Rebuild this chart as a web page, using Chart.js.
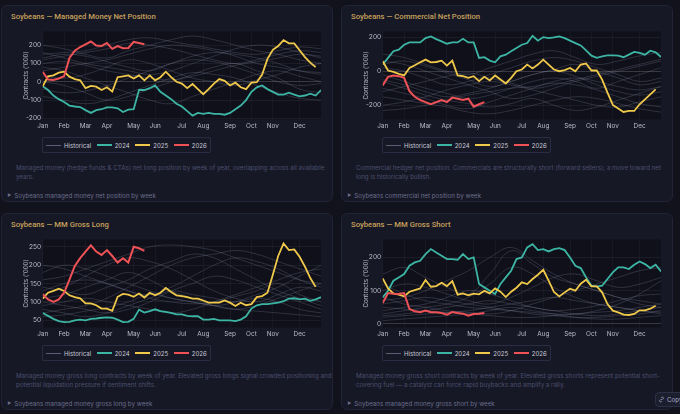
<!DOCTYPE html>
<html>
<head>
<meta charset="utf-8">
<script src="https://cdn.jsdelivr.net/npm/chart.js@4.4.1/dist/chart.umd.min.js"></script>
<style>
  body { margin: 0; width: 680px; height: 414px; overflow: hidden; position: relative; background: #11121b; font-family: Inter, "Noto Sans", sans-serif; }
  .card { position: absolute; width: 332px; height: 197px; box-sizing: border-box; background: #171826; border: 1px solid #212336; border-radius: 6px; }
  .title { position: absolute; left: 9px; top: 6px; font-family: Roboto, Inter, sans-serif; font-size: 7.7px; font-weight: 500; color: #c6a05c; line-height: 9px; white-space: nowrap; }
  .card canvas { position: absolute; left: 10px; top: 20px; }
  .legend { position: absolute; left: 40px; top: 131px; height: 16px; box-sizing: border-box; border: 1px solid #2a2c41; border-radius: 2px; display: flex; align-items: center; padding: 0 3px; font-size: 6.1px; color: #c6c9d6; white-space: nowrap; }
  .legend .sw { display: inline-block; width: 15px; height: 0; margin-right: 3px; }
  .legend .it { display: flex; align-items: center; margin-right: 5.5px; }
  .legend .it:last-child { margin-right: 0; }
  .desc { position: absolute; left: 14px; top: 156.5px; font-size: 6.2px; line-height: 9.3px; color: #4b4f6d; white-space: nowrap; }
  .sum { position: absolute; left: 5.5px; top: 185px; font-size: 6.2px; line-height: 9px; color: #6a6e8b; white-space: nowrap; }
  .sum .tri { font-size: 4.2px; margin-right: 3px; vertical-align: 1px; }
  .copy { position: absolute; left: 655px; top: 392px; width: 40px; height: 15px; box-sizing: border-box; background: #1c1d2d; border: 1px solid #2d2f46; border-radius: 4px; font-size: 6.2px; color: #a6abca; display: flex; align-items: center; padding-left: 2px; }
</style>
</head>
<body>

<div class="card" style="left:1px;top:5px">
  <div class="title">Soybeans — Managed Money Net Position</div>
  <canvas id="c1" width="312" height="106"></canvas>
  <div class="legend" id="l1"></div>
  <div class="desc">Managed money (hedge funds &amp; CTAs) net long position by week of year, overlapping across all available<br>years.</div>
  <div class="sum"><span class="tri">▶</span>Soybeans managed money net position by week</div>
</div>

<div class="card" style="left:341px;top:5px">
  <div class="title">Soybeans — Commercial Net Position</div>
  <canvas id="c2" width="312" height="106"></canvas>
  <div class="legend" id="l2"></div>
  <div class="desc">Commercial hedger net position. Commercials are structurally short (forward sellers); a move toward net<br>long is historically bullish.</div>
  <div class="sum"><span class="tri">▶</span>Soybeans commercial net position by week</div>
</div>

<div class="card" style="left:1px;top:213px">
  <div class="title">Soybeans — MM Gross Long</div>
  <canvas id="c3" width="312" height="106"></canvas>
  <div class="legend" id="l3"></div>
  <div class="desc">Managed money gross long contracts by week of year. Elevated gross longs signal crowded positioning and<br>potential liquidation pressure if sentiment shifts.</div>
  <div class="sum"><span class="tri">▶</span>Soybeans managed money gross long by week</div>
</div>

<div class="card" style="left:341px;top:213px">
  <div class="title">Soybeans — MM Gross Short</div>
  <canvas id="c4" width="312" height="106"></canvas>
  <div class="legend" id="l4"></div>
  <div class="desc">Managed money gross short contracts by week of year. Elevated gross shorts represent potential short-<br>covering fuel — a catalyst can force rapid buybacks and amplify a rally.</div>
  <div class="sum"><span class="tri">▶</span>Soybeans managed money gross short by week</div>
</div>

<div class="copy">
  <svg width="7" height="7" viewBox="0 0 16 16" fill="none" stroke="#a6abca" stroke-width="1.7" style="margin-right:2px">
    <path d="M6.5 9.5l3-3"/><path d="M7 4.5l1.5-1.5a2.5 2.5 0 0 1 3.5 3.5L10.5 8"/><path d="M9 11.5L7.5 13a2.5 2.5 0 0 1-3.5-3.5L5.5 8"/>
  </svg>Copy
</div>

<script>
// x axis: week of year, month names at the first week of each month
const monthLabels = ['Jan', 'Feb', 'Mar', 'Apr', 'May', 'Jun', 'Jul', 'Aug', 'Sep', 'Oct', 'Nov', 'Dec'];
const monthWeeks = [1, 5, 9, 13, 18, 22, 27, 31, 36, 40, 44, 49];
// historical years are sampled every 4 weeks
const histWeeks = [1, 5, 9, 13, 17, 21, 25, 29, 33, 37, 41, 45, 49, 53];

// Managed money net
const mmNet2024 = [-25,-45,-75,-95,-110,-130,-135,-138,-155,-170,-155,-150,-140,-140,-145,-165,-152,-150,-45,-45,-35,-20,-55,-75,-95,-120,-135,-160,-185,-170,-175,-170,-175,-175,-180,-170,-150,-130,-100,-55,-30,-20,-40,-55,-70,-70,-60,-70,-80,-75,-65,-75,-45];
const mmNet2025 = [-25,30,35,50,55,28,15,8,-35,-22,-27,-45,-30,-53,25,30,35,18,35,8,35,8,25,55,25,0,-10,-35,-12,-40,-68,-40,-10,15,5,-20,-5,-30,-40,-5,-2,40,125,175,195,228,210,210,172,135,105,80];
const mmNet2026 = [55,12,10,18,30,130,170,190,205,220,198,196,212,180,195,183,185,218,212,205];
const mmNetHist = [
  [150,160,170,200,230,240,220,200,180,160,150,170,190,180],
  [120,140,160,180,210,200,180,150,120,100,120,150,170,160],
  [100,110,90,60,40,20,10,30,60,90,110,130,150,140],
  [60,80,100,120,150,180,200,190,170,140,100,80,60,50],
  [30,20,40,80,120,100,60,20,0,-20,10,40,80,100],
  [0,-20,-60,-100,-80,-40,0,40,80,100,60,20,-40,-60],
  [-40,-60,-50,-20,20,60,100,120,110,80,40,0,-20,-10],
  [160,130,100,80,60,40,60,100,140,180,200,190,160,130],
  [80,60,20,-20,-60,-100,-120,-80,-40,0,40,60,30,0],
  [130,150,140,110,80,60,100,140,160,150,130,100,60,40],
  [-80,-100,-120,-100,-60,-20,20,50,40,20,-20,-60,-90,-100],
  [200,180,150,130,170,200,230,250,230,200,170,150,120,100]
];

// Commercial net
const comNet2024 = [39,78,117,126,155,169,169,169,194,204,188,175,161,169,169,190,169,169,78,82,62,52,87,97,117,136,155,165,208,179,200,194,198,204,194,179,165,151,122,91,78,87,93,93,91,82,97,113,107,97,120,111,83];
const comNet2025 = [58,4,-4,-16,-25,19,35,52,68,52,54,62,33,62,-25,-29,-39,-29,-58,-33,-54,-25,-49,-72,-39,0,10,39,16,39,68,39,10,0,6,19,0,39,45,4,4,-49,-126,-198,-219,-239,-233,-233,-194,-165,-136,-107];
const comNet2026 = [-83,-33,-25,-29,-39,-117,-150,-169,-181,-194,-181,-169,-181,-155,-161,-169,-161,-208,-194,-181];
const comNetHist = [
  [-50,-80,-120,-150,-130,-100,-60,-20,0,-30,-80,-120,-140,-120],
  [-100,-130,-160,-200,-220,-180,-140,-100,-60,-40,-60,-90,-110,-90],
  [20,0,-40,-80,-60,-20,20,60,80,60,20,-20,-60,-40],
  [-150,-170,-190,-210,-240,-250,-230,-200,-170,-150,-160,-190,-220,-240],
  [-200,-180,-150,-110,-80,-60,-80,-110,-140,-170,-200,-210,-180,-150],
  [60,40,0,-40,-80,-120,-160,-140,-100,-60,-30,0,30,60],
  [-20,-60,-100,-130,-160,-140,-100,-60,-40,-60,-100,-60,-20,20],
  [100,80,40,0,-20,20,60,100,120,80,40,60,90,110],
  [-120,-90,-60,-30,-10,-40,-70,-100,-80,-50,-20,10,40,70],
  [-60,-100,-140,-170,-190,-210,-190,-160,-200,-230,-210,-170,-130,-90],
  [-230,-220,-200,-170,-140,-120,-100,-90,-70,-80,-110,-150,-190,-210],
  [40,60,30,-10,-50,-90,-60,-20,10,40,0,-40,-80,-60]
];

// MM gross long
const grossLong2024 = [70,62,54,48,45,46,50,52,50,54,55,57,58,57,52,45,46,54,79,71,75,80,75,73,70,66,66,62,61,61,52,52,54,50,50,50,48,52,61,82,91,94,94,96,98,102,109,110,107,109,103,107,113];
const grossLong2025 = [109,125,130,136,130,118,113,110,96,96,91,82,82,76,114,122,120,114,123,112,125,118,125,138,127,118,116,113,109,109,104,98,98,98,104,98,89,98,91,94,113,116,125,174,225,259,241,243,223,196,165,141];
const grossLong2026 = [121,107,100,107,125,161,198,219,237,254,237,228,241,225,207,219,207,250,246,239];
const grossLongHist = [
  [160,170,190,210,230,250,255,250,240,220,200,180,160,150],
  [120,140,170,200,220,210,190,160,130,110,100,120,140,130],
  [90,100,110,100,90,80,70,80,100,120,140,160,180,190],
  [180,200,190,170,150,130,110,100,90,100,120,140,170,200],
  [70,80,90,110,140,170,200,220,230,240,230,210,190,170],
  [100,90,80,70,80,100,130,150,170,160,140,120,100,80],
  [140,130,120,140,160,190,210,230,220,190,160,130,110,90],
  [60,65,75,85,100,120,110,100,90,80,75,70,65,60],
  [200,190,170,150,130,120,140,170,200,220,210,190,160,140],
  [110,120,140,160,180,160,130,110,90,80,90,110,130,150],
  [80,70,60,70,90,110,130,120,110,100,110,100,80,70],
  [130,150,160,150,130,110,100,95,100,115,130,150,120,100]
];

// MM gross short
const grossShort2024 = [80,100,130,140,150,175,185,190,210,225,215,205,195,195,193,210,195,200,120,110,100,90,120,140,160,195,200,230,240,222,225,218,225,228,222,200,175,168,140,115,112,115,135,155,170,170,165,178,188,180,168,178,158];
const grossShort2025 = [137,107,92,88,83,97,102,107,132,112,114,124,114,129,88,92,86,91,89,100,92,107,97,81,97,109,125,120,135,148,163,130,96,83,95,106,100,121,133,113,113,95,60,40,35,28,27,30,41,41,46,55];
const grossShort2026 = [63,93,91,90,93,45,38,35,40,35,35,33,28,36,33,31,25,30,31,33];
const grossShortHist = [
  [40,50,60,80,100,90,70,50,40,30,25,30,40,50],
  [20,25,30,35,40,50,60,70,80,70,60,50,40,30],
  [60,70,80,70,60,50,40,30,25,20,20,25,30,40],
  [100,120,110,90,70,60,80,110,140,150,130,110,120,140],
  [10,15,20,25,30,40,50,40,30,20,15,15,20,25],
  [150,170,140,110,90,150,220,180,140,120,100,80,70,60],
  [30,40,50,60,80,120,170,150,110,80,60,50,40,35],
  [80,60,50,40,35,30,40,60,80,100,120,140,160,170],
  [50,45,40,35,30,25,20,20,25,30,40,60,90,130],
  [25,30,40,50,60,70,60,50,40,45,55,70,85,90],
  [120,90,70,60,50,45,40,35,30,30,35,40,50,60],
  [70,80,100,130,160,200,230,190,150,120,100,80,60,50]
];

const histColor = 'rgba(150,153,178,0.3)';
const colors = { '2024': '#3db5a4', '2025': '#f0c94a', '2026': '#ee5257' };

function weekly(values) {
  return values.map((v, i) => ({ x: i + 1, y: v }));
}
function sampled(values) {
  return values.map((v, i) => ({ x: histWeeks[i], y: v }));
}

// dark plot background
const plotBg = {
  id: 'plotBg',
  beforeDraw(chart) {
    const { ctx, chartArea: a } = chart;
    ctx.save();
    ctx.fillStyle = '#0f101a';
    ctx.fillRect(a.left, a.top, a.right - a.left, a.bottom - a.top);
    ctx.restore();
  }
};

function makeChart(id, legendId, hist, y24, y25, y26, yMin, yMax, step) {
  const datasets = hist.map(h => ({
    label: 'Historical', data: sampled(h), borderColor: histColor, borderWidth: 0.8, tension: 0.4, order: 10
  }));
  datasets.push({ label: '2024', data: weekly(y24), borderColor: colors['2024'], borderWidth: 1.8, order: 3 });
  datasets.push({ label: '2025', data: weekly(y25), borderColor: colors['2025'], borderWidth: 1.8, order: 2 });
  datasets.push({ label: '2026', data: weekly(y26), borderColor: colors['2026'], borderWidth: 2, order: 1 });

  const chart = new Chart(document.getElementById(id), {
    type: 'line',
    data: { datasets },
    plugins: [plotBg],
    options: {
      responsive: false,
      animation: false,
      layout: { padding: { top: 4.3, right: 3, left: 0, bottom: 0 } },
      elements: { point: { radius: 0 }, line: { tension: 0 } },
      plugins: { legend: { display: false }, tooltip: { enabled: false } },
      scales: {
        x: {
          type: 'linear', min: 1, max: 53,
          afterBuildTicks: s => { s.ticks = monthWeeks.map(v => ({ value: v })); },
          afterFit: s => { s.height = 12.7; },
          ticks: {
            autoSkip: false, maxRotation: 0, padding: 3, color: '#b9bccb',
            font: { family: 'Inter', size: 6.4 },
            callback: v => monthLabels[monthWeeks.indexOf(v)]
          },
          grid: { color: 'rgba(255,255,255,0.035)', drawTicks: false },
          border: { display: false }
        },
        y: {
          min: yMin, max: yMax,
          afterFit: s => { s.width = 30.7; },
          ticks: {
            stepSize: step, includeBounds: false, padding: 1.5, color: '#b9bccb',
            font: { family: 'Inter', size: 6.6 }
          },
          title: {
            display: true, text: "Contracts ('000)", color: '#b3b6c6',
            font: { family: 'Inter', size: 6.2 }, padding: { top: 10.5, bottom: 0 }
          },
          grid: {
            drawTicks: false,
            color: c => (c.tick && c.tick.value === 0) ? 'rgba(255,255,255,0.17)' : 'rgba(255,255,255,0.05)'
          },
          border: { display: false }
        }
      }
    }
  });

  // legend box under the plot, one entry for all historical years
  const items = [{ label: 'Historical', color: histColor, width: 1 }];
  chart.data.datasets.filter(d => d.label !== 'Historical').forEach(d => {
    items.push({ label: d.label, color: d.borderColor, width: 2 });
  });
  const el = document.getElementById(legendId);
  el.innerHTML = items.map(it =>
    '<span class="it"><span class="sw" style="border-top:' + it.width + 'px solid ' +
    (it.label === 'Historical' ? 'rgba(150,153,178,0.55)' : it.color) + '"></span>' + it.label + '</span>'
  ).join('');
}

makeChart('c1', 'l1', mmNetHist, mmNet2024, mmNet2025, mmNet2026, -205, 275, 100);
makeChart('c2', 'l2', comNetHist, comNet2024, comNet2025, comNet2026, -282, 233, 200);
makeChart('c3', 'l3', grossLongHist, grossLong2024, grossLong2025, grossLong2026, 31, 270, 50);
makeChart('c4', 'l4', grossShortHist, grossShort2024, grossShort2025, grossShort2026, -10, 254, 100);
</script>
</body>
</html>
